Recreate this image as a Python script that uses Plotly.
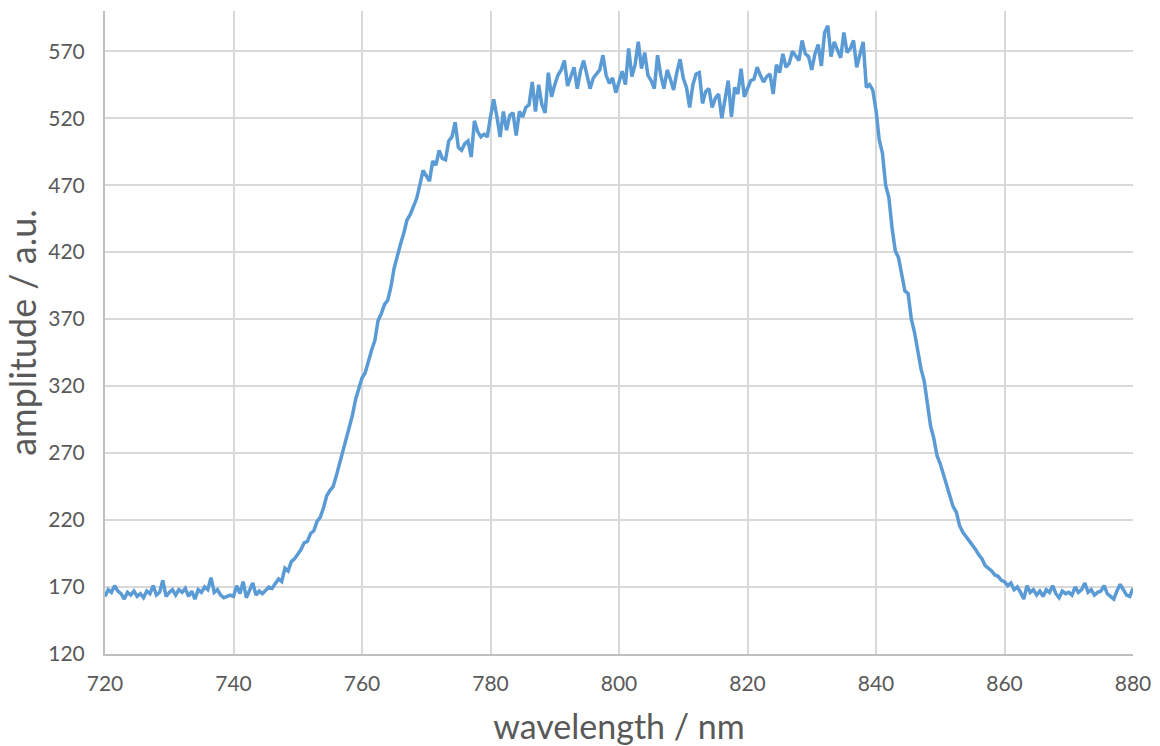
import plotly.graph_objects as go

# Measured spectrum, sampled every 0.5 nm from 720 nm to 880 nm
start_nm = 720.0
step_nm = 0.5
amplitude = [
    163, 168, 166, 171, 167, 165, 161, 166, 164, 167,  # 720
    163, 165, 162, 167, 165, 171, 164, 166, 175, 163,  # 725
    166, 168, 164, 168, 166, 169, 163, 167, 161, 168,  # 730
    166, 170, 168, 177, 166, 168, 164, 162, 163, 164,  # 735
    163, 171, 165, 174, 162, 168, 173, 164, 167, 165,  # 740
    168, 170, 169, 173, 176, 174, 184, 182, 189, 191,  # 745
    194, 198, 203, 204, 210, 212, 219, 222, 229, 238,  # 750
    242, 245, 253, 262, 273, 282, 290, 298, 310, 318,  # 755
    326, 330, 339, 347, 354, 369, 374, 381, 384, 394,  # 760
    408, 418, 426, 434, 444, 448, 454, 460, 470, 481,  # 765
    477, 473, 488, 485, 496, 490, 489, 503, 506, 517,  # 770
    498, 496, 501, 503, 491, 518, 510, 506, 508, 506,  # 775
    521, 534, 521, 506, 525, 511, 522, 524, 507, 525,  # 780
    521, 528, 530, 547, 525, 545, 530, 524, 554, 536,  # 785
    545, 552, 556, 563, 544, 552, 558, 542, 555, 563,  # 790
    551, 542, 550, 553, 556, 567, 552, 546, 550, 539,  # 795
    548, 555, 545, 572, 551, 560, 577, 557, 569, 552,  # 800
    548, 542, 567, 552, 542, 556, 549, 541, 554, 564,  # 805
    550, 543, 528, 545, 553, 554, 531, 540, 542, 528,  # 810
    535, 538, 520, 533, 548, 521, 543, 538, 557, 536,  # 815
    543, 548, 549, 558, 552, 547, 551, 553, 538, 560,  # 820
    554, 568, 558, 561, 570, 566, 563, 578, 568, 566,  # 825
    556, 568, 575, 559, 584, 589, 566, 577, 570, 565,  # 830
    584, 569, 572, 578, 558, 567, 577, 543, 545, 541,  # 835
    526, 504, 494, 470, 461, 438, 421, 416, 404, 391,  # 840
    389, 370, 360, 345, 333, 324, 307, 290, 281, 268,  # 845
    262, 254, 247, 240, 230, 226, 216, 211, 208, 204,  # 850
    201, 198, 194, 191, 186, 184, 182, 179, 178, 175,  # 855
    174, 171, 173, 168, 170, 166, 161, 171, 166, 168,  # 860
    164, 167, 163, 168, 166, 171, 165, 162, 167, 165,  # 865
    166, 164, 170, 166, 168, 173, 166, 168, 164, 166,  # 870
    167, 171, 165, 163, 161, 167, 172, 168, 164, 163,  # 875
    169,                                               # 880
]
wavelength = [start_nm + step_nm * i for i in range(len(amplitude))]

x_ticks = [720, 740, 760, 780, 800, 820, 840, 860, 880]
y_ticks = [120, 170, 220, 270, 320, 370, 420, 470, 520, 570]

FONT = "Lato, 'Open Sans', sans-serif"
TEXT_GREY = "#595959"
GRID_GREY = "#d9d9d9"

fig = go.Figure(
    go.Scatter(
        x=wavelength,
        y=amplitude,
        mode="lines",
        line=dict(color="#5b9bd5", width=3.5),
        hoverinfo="x+y",
    )
)

fig.update_layout(
    width=1160,
    height=746,
    margin=dict(l=105, r=27, t=11, b=92),
    paper_bgcolor="white",
    plot_bgcolor="white",
    showlegend=False,
    font=dict(family=FONT, color=TEXT_GREY),
)

fig.update_xaxes(
    range=[720, 880],
    automargin=False,
    tickvals=x_ticks,
    ticktext=[str(v) for v in x_ticks],
    tickfont=dict(size=21, color=TEXT_GREY),
    ticklabelstandoff=10,
    showgrid=True,
    gridcolor=GRID_GREY,
    gridwidth=2,
    zeroline=False,
    showline=True,
    linecolor="#bfbfbf",
    linewidth=2,
    ticks="",
    title=dict(text="wavelength / nm", font=dict(size=34, color=TEXT_GREY), standoff=27),
)

fig.update_yaxes(
    range=[120, 600],
    automargin=False,
    tickvals=y_ticks,
    ticktext=[str(v) for v in y_ticks],
    tickfont=dict(size=21, color=TEXT_GREY),
    ticklabelstandoff=14,
    showgrid=True,
    gridcolor=GRID_GREY,
    gridwidth=2,
    zeroline=False,
    showline=True,
    linecolor="#bfbfbf",
    linewidth=2,
    ticks="",
    title=dict(text="amplitude / a.u.", font=dict(size=36, color=TEXT_GREY), standoff=5),
)

fig.write_html("out.html")
